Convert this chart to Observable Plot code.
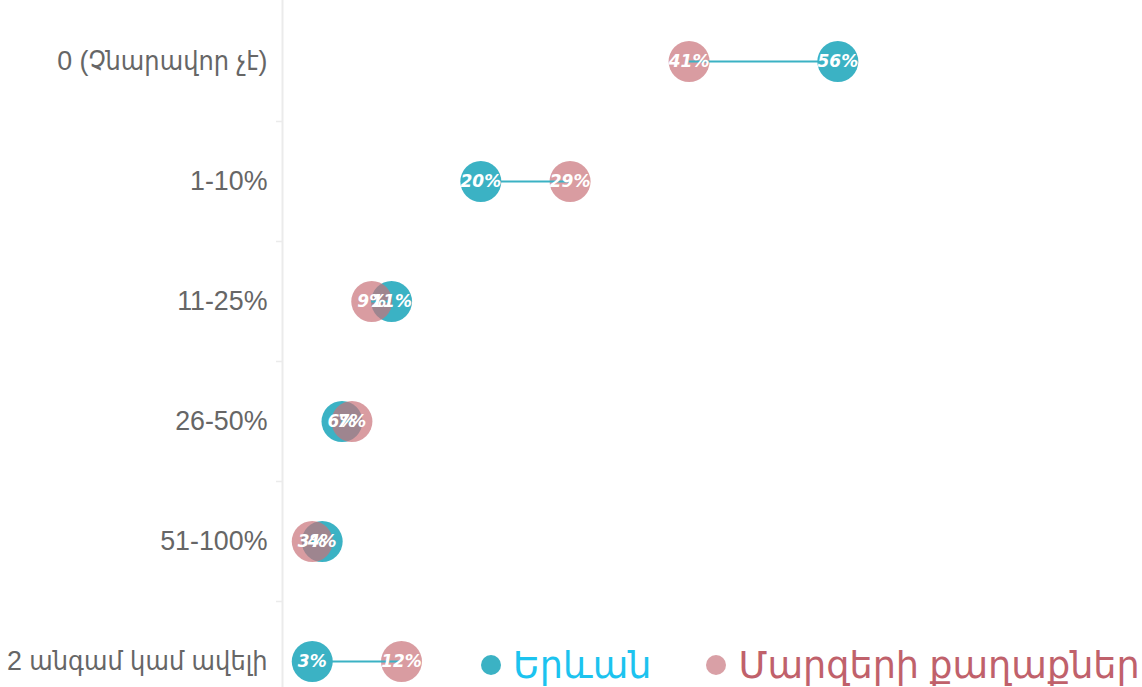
<!DOCTYPE html>
<html>
<head>
<meta charset="utf-8">
<script src="https://cdn.jsdelivr.net/npm/d3@7"></script>
<script src="https://cdn.jsdelivr.net/npm/@observablehq/plot@0.6"></script>
<style>
  html, body { margin: 0; padding: 0; overflow: hidden; background: #fff; }
  #wrap { position: relative; width: 1142px; height: 687px; overflow: hidden; }
  #legend { position: absolute; left: 481px; top: 643px; height: 44px; display: flex; align-items: center;
            font-family: "Liberation Sans", "DejaVu Sans", sans-serif; font-size: 36.6px; white-space: nowrap; }
  .sw { display: inline-block; width: 20px; height: 20px; border-radius: 50%; margin-right: 12px; }
  .item { display: flex; align-items: center; margin-right: 55px; }
</style>
</head>
<body>
<div id="wrap"><div id="chart"></div><div id="legend"></div></div>
<script>
const categories = ["0 (Չնարավոր չէ)", "1-10%", "11-25%", "26-50%", "51-100%", "2 անգամ կամ ավելի"];
const yerevan = [56, 20, 11, 6, 4, 3];
const marzer = [41, 29, 9, 7, 3, 12];
const seriesNames = ["Երևան", "Մարզերի քաղաքներ"];

const tealFill = "#3bb2c4";
const pinkFill = "#c97279";
const legendDot = ["#3bb2c4", "#d9a0a6"];
const legendText = ["#1cc3ef", "#c0616b"];

const rows = categories.map((c, i) => ({cat: c, y: yerevan[i], m: marzer[i]}));
const pts = [
  ...rows.map(r => ({cat: r.cat, v: r.y, s: seriesNames[0]})),
  ...rows.map(r => ({cat: r.cat, v: r.m, s: seriesNames[1]}))
];

const chart = Plot.plot({
  width: 1142,
  height: 760,
  marginTop: 1,
  marginBottom: 39,
  marginLeft: 282,
  marginRight: 265,
  x: {domain: [0, 60], axis: null},
  y: {type: "band", domain: categories, padding: 0, axis: null, label: null},
  style: {fontFamily: "'Liberation Sans', 'DejaVu Sans', sans-serif", background: "#fff"},
  marks: [
    Plot.ruleX([0], {stroke: "#ebebeb", strokeWidth: 2, insetTop: -1, insetBottom: -39}),
    Plot.ruleY(categories.slice(1), {y: d => d, dy: -60, x2: 0, insetLeft: -6, stroke: "#ebebeb", strokeWidth: 1.5}),
    Plot.axisY({tickSize: 0, tickPadding: 15, fontSize: 26.8, color: "#666", fill: "#666", label: null,
      fontFamily: "'Liberation Sans', 'DejaVu Sans Condensed', 'DejaVu Sans', sans-serif"}),
    Plot.dot(pts.filter(d => d.s === seriesNames[0]), {x: "v", y: "cat", r: 20.5, fill: tealFill, stroke: null}),
    Plot.dot(pts.filter(d => d.s === seriesNames[1]), {x: "v", y: "cat", r: 20.5, fill: pinkFill, fillOpacity: 0.7, stroke: null}),
    Plot.ruleY(rows, {y: "cat", x1: "y", x2: "m", stroke: tealFill, strokeWidth: 2}),
    Plot.text(pts, {x: "v", y: "cat", text: d => d.v + "%", fill: "white", fontSize: 17,
      fontWeight: "bold", fontStyle: "italic", fontFamily: "'DejaVu Sans', sans-serif"})
  ]
});
document.getElementById("chart").append(chart);

const legend = document.getElementById("legend");
seriesNames.forEach((n, i) => {
  const item = document.createElement("div");
  item.className = "item";
  const sw = document.createElement("span");
  sw.className = "sw";
  sw.style.background = legendDot[i];
  const t = document.createElement("span");
  t.textContent = n;
  t.style.color = legendText[i];
  item.append(sw, t);
  legend.append(item);
});
</script>
</body>
</html>
